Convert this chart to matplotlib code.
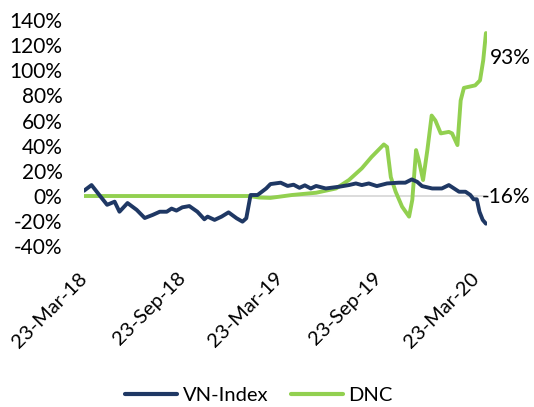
import matplotlib
matplotlib.use("Agg")
import matplotlib.pyplot as plt
import matplotlib.dates as mdates
import pandas as pd

vn_dates = ["2018-03-23", "2018-04-06", "2018-04-22", "2018-05-05", "2018-05-19", "2018-05-28",
            "2018-06-12", "2018-06-29", "2018-07-14", "2018-07-29", "2018-08-11", "2018-08-24",
            "2018-09-02", "2018-09-11", "2018-09-22", "2018-10-05", "2018-10-20", "2018-11-02",
            "2018-11-08", "2018-11-21", "2018-12-04", "2018-12-17", "2019-01-01", "2019-01-12",
            "2019-01-19", "2019-01-27", "2019-02-09", "2019-02-25", "2019-03-05", "2019-03-24",
            "2019-04-06", "2019-04-17", "2019-04-28", "2019-05-08", "2019-05-19", "2019-05-29",
            "2019-06-16", "2019-07-11", "2019-07-29", "2019-08-11", "2019-08-22", "2019-09-04",
            "2019-09-19", "2019-10-08", "2019-10-30", "2019-11-11", "2019-11-23", "2019-12-03",
            "2019-12-12", "2019-12-31", "2020-01-18", "2020-01-31", "2020-02-19", "2020-03-02",
            "2020-03-11", "2020-03-17", "2020-03-23", "2020-03-28", "2020-04-03", "2020-04-09"]
vn_values = [4.2, 8.7, 0.0, -7.0, -4.5, -12.5,
             -5.6, -11.0, -17.5, -15.0, -12.5, -12.5,
             -10.0, -11.6, -9.0, -8.0, -12.5, -18.5,
             -16.4, -19.0, -16.4, -13.0, -17.7, -20.4,
             -17.7, 0.8, 0.8, 6.0, 9.5, 10.6,
             8.0, 9.0, 6.5, 8.5, 6.0, 8.0,
             6.0, 7.4, 8.7, 10.0, 8.7, 10.0,
             7.9, 10.0, 10.6, 10.6, 13.2, 11.3,
             7.9, 6.0, 6.0, 8.7, 3.4, 3.4,
             0.8, -2.6, -2.6, -12.5, -19.0, -22.0]

dnc_dates = ["2018-03-23", "2019-01-25", "2019-02-12", "2019-03-05", "2019-04-14", "2019-05-29",
             "2019-07-05", "2019-07-29", "2019-08-22", "2019-09-09", "2019-10-02", "2019-10-08",
             "2019-10-15", "2019-10-24", "2019-11-05", "2019-11-18", "2019-11-24", "2019-12-01",
             "2019-12-06", "2019-12-14", "2019-12-22", "2019-12-30", "2020-01-06", "2020-01-16",
             "2020-01-31", "2020-02-06", "2020-02-16", "2020-02-22", "2020-02-28", "2020-03-20",
             "2020-03-29", "2020-04-04", "2020-04-09"]
dnc_values = [0.0, 0.0, -1.2, -1.5, 0.8, 2.6,
              6.0, 12.7, 22.0, 31.0, 41.0, 39.0,
              15.0, 3.4, -8.5, -16.4, -3.0, 36.5,
              28.6, 12.7, 36.5, 64.0, 60.0, 49.8,
              51.0, 49.8, 40.5, 76.0, 86.0, 88.0,
              92.0, 108.0, 129.6]

series_names = ["VN-Index", "DNC"]
end_labels = ["-16%", "93%"]
tick_dates = ["2018-03-23", "2018-09-23", "2019-03-23", "2019-09-23", "2020-03-23"]
y_ticks = [-40, -20, 0, 20, 40, 60, 80, 100, 120, 140]

plt.rcParams['font.family'] = ['Lato', 'DejaVu Sans']

W, H = 534, 407
fig = plt.figure(figsize=(W / 100, H / 100), dpi=100)
ax = fig.add_axes([84 / W, 1 - 246.3 / H, (487 - 84) / W, (246.3 - 20) / H])

navy = "#1F3864"
green = "#92D050"

ax.axhline(0, color="#D9D9D9", lw=1.3, zorder=1)
ax.plot(pd.to_datetime(vn_dates), vn_values, color=navy, lw=2.8, label=series_names[0],
        solid_joinstyle="round", solid_capstyle="round", zorder=3)
ax.plot(pd.to_datetime(dnc_dates), dnc_values, color=green, lw=2.8, label=series_names[1],
        solid_joinstyle="round", solid_capstyle="round", zorder=2)

ax.set_ylim(-40, 140)
ax.set_yticks(y_ticks)
ax.set_yticklabels([f"{v}%" for v in y_ticks])
ax.set_xlim(pd.Timestamp("2018-03-23"), pd.Timestamp("2020-04-11"))
ax.set_xticks(pd.to_datetime(tick_dates))
ax.xaxis.set_major_formatter(mdates.DateFormatter("%d-%b-%y"))

for s in ax.spines.values():
    s.set_visible(False)
ax.tick_params(axis="y", length=0, pad=15.5, labelsize=15, colors="black")
ax.tick_params(axis="x", length=0, pad=21, labelsize=14.5, colors="black")
for lab in ax.get_xticklabels():
    lab.set_rotation(45)
    lab.set_ha("right")
    lab.set_va("center")
    lab.set_rotation_mode("anchor")

fig.text(490 / W, 1 - 58 / H, end_labels[1], fontsize=15, va="center", ha="left")
fig.text(482 / W, 1 - 197 / H, end_labels[0], fontsize=15, va="center", ha="left")

leg = fig.legend(loc="center", bbox_to_anchor=(0.485, 1 - 395 / H), ncol=2, frameon=False,
                 fontsize=14.5, handlelength=2.6, columnspacing=1.15, handletextpad=0.25)
for line in leg.get_lines():
    line.set_linewidth(3)

fig.savefig("out.png", dpi=100)
